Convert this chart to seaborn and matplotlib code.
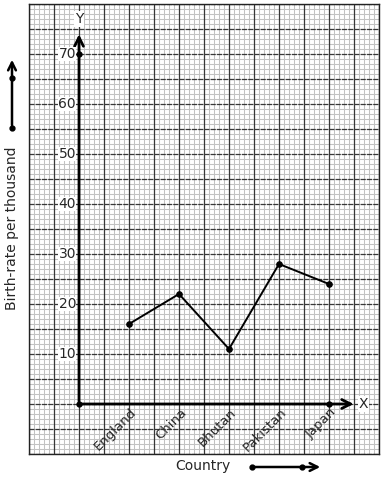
import matplotlib
matplotlib.use("Agg")
import matplotlib.pyplot as plt
import numpy as np
import pandas as pd
import seaborn as sns

countries = ["England", "China", "Bhutan", "Pakistan", "Japan"]
birth_rates = [16, 22, 11, 28, 24]
y_tick_values = [10, 20, 30, 40, 50, 60, 70]

sns.set_style("white")
plt.rcParams["font.family"] = ["DejaVu Sans"]

df = pd.DataFrame({"pos": np.arange(1, len(countries) + 1), "rate": birth_rates})

fig = plt.figure(figsize=(3.84, 4.8), dpi=100)
ax = fig.add_axes([29 / 384, 26 / 480, 350 / 384, 450 / 480])
ax.set_xlim(-1, 6)
ax.set_ylim(-10, 80)

# graph paper: light minor lines first, dark major lines on top
ax.vlines(np.arange(-1, 6.01, 0.1), -10, 80, color="#c2c2c2", lw=0.75, zorder=0)
ax.hlines(np.arange(-10, 80.1, 1), -1, 6, color="#c2c2c2", lw=0.75, zorder=0)
ax.vlines(np.arange(-1, 6.01, 0.5), -10, 80, color="#383838", lw=0.9, zorder=0.5)
ax.hlines(np.arange(-10, 80.1, 5), -1, 6, color="#383838", lw=0.9, zorder=0.5,
          linestyles=(0, (4, 1)))
ax.tick_params(which="both", length=0, labelbottom=False, labelleft=False)
for s in ax.spines.values():
    s.set_color("#222222")
    s.set_linewidth(1.0)

# axes with arrows
ax.annotate("", xy=(0, 74.5), xytext=(0, 0),
            arrowprops=dict(arrowstyle="->", lw=2, color="black", mutation_scale=16))
ax.annotate("", xy=(5.55, 0), xytext=(0, 0),
            arrowprops=dict(arrowstyle="->", lw=2, color="black", mutation_scale=16))
ax.plot([0, 0, 5], [0, 70, 0], "o", color="black", ms=3.5, zorder=5)
ax.text(0, 77, "Y", ha="center", va="center", fontsize=10,
        bbox=dict(facecolor="white", edgecolor="none", pad=0.5))
ax.text(5.6, 0, "X", ha="left", va="center", fontsize=10,
        bbox=dict(facecolor="white", edgecolor="none", pad=0.5))

for v in y_tick_values:
    ax.text(-0.06, v, str(v), ha="right", va="center", fontsize=10,
            bbox=dict(facecolor="white", edgecolor="none", pad=0.3))

for i, c in enumerate(countries):
    ax.text(i + 1 + 0.02, -0.4, c, rotation=45, ha="right", va="top", fontsize=9.5,
            rotation_mode="anchor")

sns.lineplot(data=df, x="pos", y="rate", marker="o", color="black", lw=1.4,
             markersize=4, markeredgecolor="black", ax=ax, zorder=6)
ax.set_xlabel("")
ax.set_ylabel("")
ax.set_xlim(-1, 6)
ax.set_ylim(-10, 80)

# outside labels and arrows
fig.text(203 / 384, 14 / 480, "Country", ha="center", va="center", fontsize=10)
fig.text(12 / 384, 1 - 228 / 480, "Birth-rate per thousand", rotation=90,
         ha="center", va="center", fontsize=10)
ax.annotate("", xy=(323 / 384, 13 / 480), xytext=(252 / 384, 13 / 480),
            xycoords="figure fraction", textcoords="figure fraction",
            arrowprops=dict(arrowstyle="->", lw=1.8, color="black", mutation_scale=14))
ax.annotate("", xy=(12 / 384, 423 / 480), xytext=(12 / 384, 352 / 480),
            xycoords="figure fraction", textcoords="figure fraction",
            arrowprops=dict(arrowstyle="->", lw=1.8, color="black", mutation_scale=14))
fig.lines.append(plt.Line2D([252 / 384, 302 / 384], [13 / 480, 13 / 480], ls="",
                            marker="o", ms=3.5, color="black", transform=fig.transFigure))
fig.lines.append(plt.Line2D([12 / 384, 12 / 384], [352 / 480, 402 / 480], ls="",
                            marker="o", ms=3.5, color="black", transform=fig.transFigure))

fig.savefig("out.png", dpi=100)
